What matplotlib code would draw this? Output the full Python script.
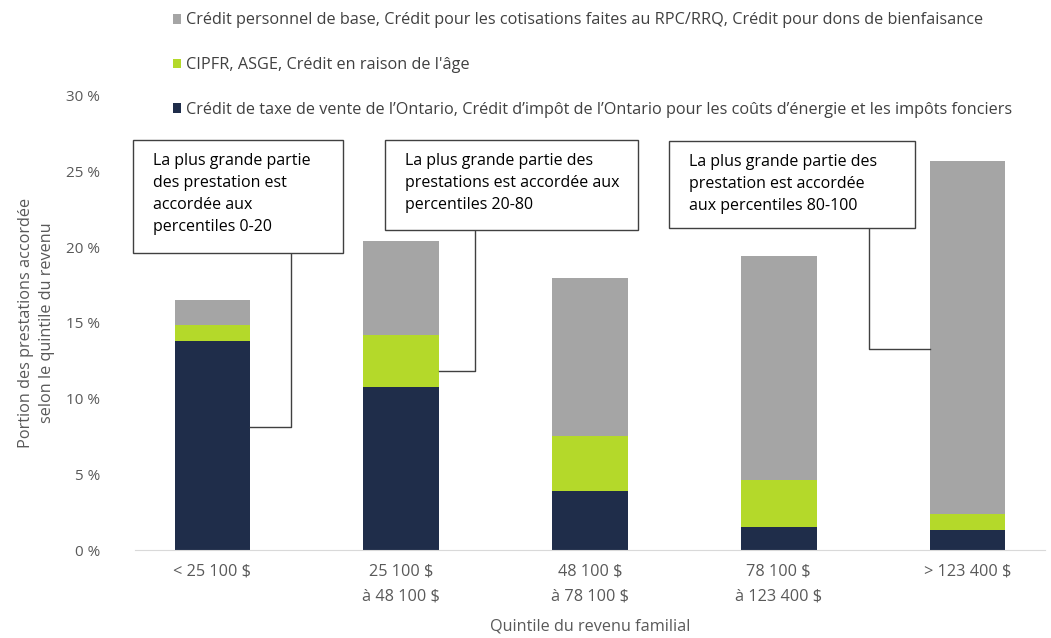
import matplotlib.pyplot as plt
from matplotlib.patches import Rectangle
import numpy as np

plt.rcParams['font.family'] = ['Open Sans', 'DejaVu Sans']

categories = ["< 25 100 $", "25 100 $\nà 48 100 $", "48 100 $\nà 78 100 $",
              "78 100 $\nà 123 400 $", "> 123 400 $"]
ontario = [13.8, 10.8, 3.9, 1.5, 1.3]
cipfr = [1.1, 3.4, 3.6, 3.1, 1.1]
credit_base = [1.6, 6.2, 10.5, 14.8, 23.3]

labels = ["Crédit de taxe de vente de l’Ontario, Crédit d’impôt de l’Ontario pour les coûts d’énergie et les impôts fonciers",
          "CIPFR, ASGE, Crédit en raison de l'âge",
          "Crédit personnel de base, Crédit pour les cotisations faites au RPC/RRQ, Crédit pour dons de bienfaisance"]
colors = ["#1F2D4A", "#B4D92A", "#A5A5A5"]

callout_texts = ["La plus grande partie\ndes prestation est\naccordée aux\npercentiles 0-20",
                 "La plus grande partie des\nprestations est accordée aux\npercentiles 20-80",
                 "La plus grande partie des\nprestation est accordée\naux percentiles 80-100"]
callout_bar = [0, 1, 4]
callout_value = [8.1, 11.8, 13.3]


def main():
    fig = plt.figure(figsize=(10.51, 6.38), dpi=100)
    ax = fig.add_axes([135 / 1051, 1 - 550 / 638, 910 / 1051, 454 / 638])

    x = np.arange(len(categories))
    w = 0.40
    bottom = np.zeros(len(categories))
    handles = []
    for vals, c, lab in zip([ontario, cipfr, credit_base], colors, labels):
        h = ax.bar(x, vals, w, bottom=bottom, color=c, label=lab, zorder=2)
        handles.append(h)
        bottom += np.array(vals)

    ax.set_xlim(-0.41, 4.41)
    ax.set_ylim(0, 30)
    ax.set_yticks(np.arange(0, 31, 5))
    ax.set_yticklabels([f"{v} %" for v in range(0, 31, 5)])
    ax.set_xticks(x)
    ax.set_xticklabels(categories)
    for s in ["top", "right", "left"]:
        ax.spines[s].set_visible(False)
    ax.spines["bottom"].set_color("#D9D9D9")
    ax.tick_params(axis="both", length=0, colors="#595959")
    ax.tick_params(axis="x", pad=10, labelsize=11.7)
    ax.tick_params(axis="y", pad=25, labelsize=11)
    for t in ax.get_xticklabels():
        t.set_linespacing(1.75)
    ax.set_ylabel("Portion des prestations accordée\nselon le quintile du revenu",
                  color="#595959", fontsize=11.7, labelpad=8, linespacing=1.4)
    ax.set_xlabel("Quintile du revenu familial", color="#595959", fontsize=11.7, labelpad=10)

    # callout boxes: (left, right, bottom, top) in data units, leader x
    boxes = [(-0.423, 0.693, 19.6, 27.1, 0.418),
             (0.915, 2.254, 21.15, 27.1, 1.392),
             (2.418, 3.72, 21.3, 27.05, 3.476)]
    for (l, r, b, t, lx), txt, bi, v in zip(boxes, callout_texts, callout_bar, callout_value):
        ax.add_patch(Rectangle((l, b), r - l, t - b, facecolor="white", edgecolor="#404040",
                               lw=1.0, zorder=4, clip_on=False))
        ax.text(l + 0.106, t - 0.85, txt, ha="left", va="top", fontsize=11.5, color="black",
                linespacing=1.52, zorder=5)
        edge = bi + w / 2 if lx > bi else bi - w / 2
        ax.plot([edge, lx, lx], [v, v, b], color="#404040", lw=1.0, zorder=3)

    leg = fig.legend(handles[::-1], labels[::-1], loc="upper left",
                     bbox_to_anchor=(166 / 1051, 1 - 6 / 638), frameon=False,
                     fontsize=11.7, labelspacing=1.77, handlelength=0.55, handleheight=0.55,
                     handletextpad=0.25, borderaxespad=0)
    for t in leg.get_texts():
        t.set_color("#404040")

    fig.savefig("out.png", dpi=100)


if __name__ == "__main__":
    main()
